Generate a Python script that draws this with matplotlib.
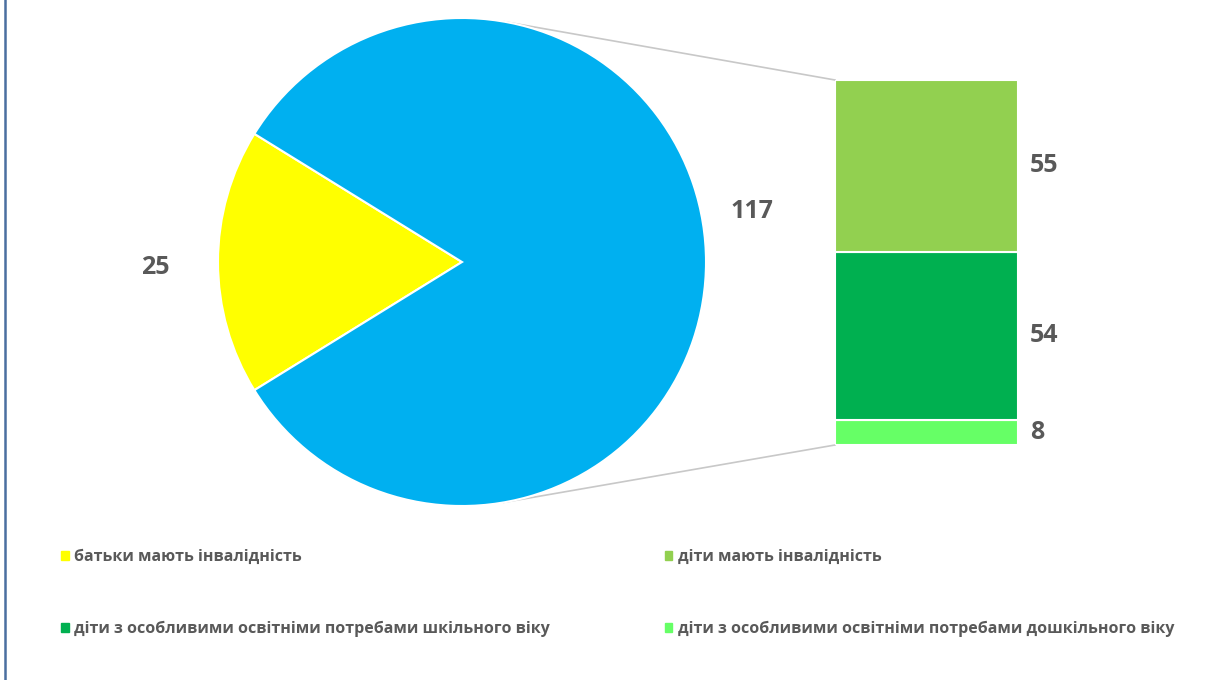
import numpy as np
import matplotlib
matplotlib.use('Agg')
import matplotlib.pyplot as plt
from matplotlib.patches import Patch

plt.rcParams['font.family'] = ['Open Sans', 'DejaVu Sans']

# дані
pie_labels = ['батьки мають інвалідність', 'діти']
pie_values = [25, 117]
pie_colors = ['#FFFF00', '#00B0F0']

# стовпчик (знизу вгору)
bar_labels = ['діти з особливими освітніми потребами дошкільного віку',
              'діти з особливими освітніми потребами шкільного віку',
              'діти мають інвалідність']
bar_values = [8, 54, 55]
bar_colors = ['#66FF66', '#00B050', '#92D050']

txt_color = '#595959'
W, H = 1218, 680

fig = plt.figure(figsize=(W / 100, H / 100), dpi=100)
ax = fig.add_axes([0, 0, 1, 1])

# кругова діаграма
cx, cy, r = 462, H - 262, 244
start = 180 - pie_values[0] / sum(pie_values) * 180
ax.pie(pie_values, colors=pie_colors, center=(cx, cy), radius=r,
       startangle=start, wedgeprops=dict(edgecolor='white', linewidth=1.5))
ax.set_xlim(0, W)
ax.set_ylim(0, H)
ax.set_aspect('equal')
ax.axis('off')

ax.text(155, H - 268, str(pie_values[0]), ha='center', va='center',
        fontsize=18, fontweight='bold', color=txt_color)
ax.text(752, H - 212, str(pie_values[1]), ha='center', va='center',
        fontsize=18, fontweight='bold', color=txt_color)

# стовпчик
bx0, by0, bw, bh = 835, H - 445, 183, 365
axb = fig.add_axes([bx0 / W, by0 / H, bw / W, bh / H])
bottoms = np.cumsum([0] + bar_values[:-1])
axb.bar(0, bar_values, width=1, bottom=bottoms, color=bar_colors,
        edgecolor='white', linewidth=1.5)
axb.set_xlim(-0.5, 0.5)
axb.set_ylim(0, sum(bar_values))
axb.axis('off')
for v, b in zip(bar_values, bottoms):
    axb.annotate(str(v), xy=(0.5, b + v / 2), xytext=(8.5, 0),
                 textcoords='offset points', ha='left', va='center',
                 fontsize=18, fontweight='bold', color=txt_color,
                 annotation_clip=False)

# лінії-з'єднувачі (дотичні до кола)
for px, py, sign in [(bx0, by0 + bh, 1), (bx0, by0, -1)]:
    d = np.hypot(px - cx, py - cy)
    phi = np.arctan2(py - cy, px - cx)
    a = phi + sign * np.arccos(r / d)
    tx, ty = cx + r * np.cos(a), cy + r * np.sin(a)
    ax.plot([tx, px], [ty, py], color='#C8C8C8', lw=1.2, zorder=0)

# рамка зліва
ax.plot([5, 5], [0, H], color='#4A6FA0', lw=1.8)

# легенда
handles = [Patch(color=pie_colors[0]), Patch(color=bar_colors[1]),
           Patch(color=bar_colors[2]), Patch(color=bar_colors[0])]
labels = [pie_labels[0], bar_labels[1], bar_labels[2], bar_labels[0]]
leg = fig.legend(handles, labels, ncol=2, loc='upper left',
                 bbox_to_anchor=(47 / W, 1 - 535 / H), frameon=False,
                 fontsize=11.5, handlelength=0.45, handleheight=0.45,
                 handletextpad=0.35, labelspacing=3.5, columnspacing=7.2)
for t in leg.get_texts():
    t.set_color(txt_color)
    t.set_fontweight('bold')

fig.savefig('out.png', dpi=100)
